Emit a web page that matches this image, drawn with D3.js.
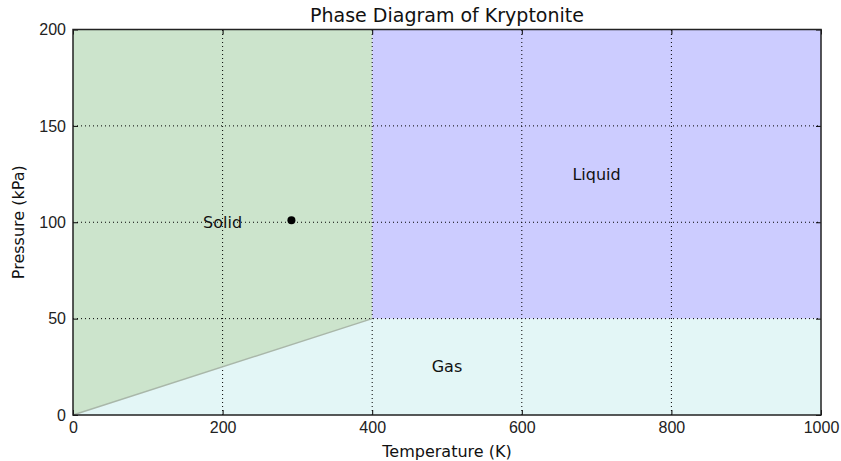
<!DOCTYPE html>
<html>
<head>
<meta charset="utf-8">
<script src="https://cdn.jsdelivr.net/npm/d3@7"></script>
<style>
  body { margin: 0; background: #fff; }
  svg { font-family: "DejaVu Sans", sans-serif; }
  .tick text { font-size: 16px; fill: #222; }
</style>
</head>
<body>
<svg id="chart" width="841" height="461"></svg>
<script>
// data
const xTicks = [0, 200, 400, 600, 800, 1000];
const yTicks = [0, 50, 100, 150, 200];
const solidRegion = [[0, 0], [400, 50], [400, 200], [0, 200]];
const liquidRegion = [[400, 50], [1000, 50], [1000, 200], [400, 200]];
const gasRegion = [[0, 0], [1000, 0], [1000, 50], [400, 50]];
const boundary = [[0, 0], [400, 50]];
const point = [292, 101];
const labels = [
  {text: "Solid", t: 200, p: 100},
  {text: "Liquid", t: 700, p: 125},
  {text: "Gas", t: 500, p: 25}
];

var svg = d3.select("#chart"),
    margin = {top: 29.5, right: 20, bottom: 46, left: 73},
    width = +svg.attr("width"),
    height = +svg.attr("height");

var x = d3.scaleLinear().domain([0, 1000]).range([margin.left, width - margin.right]);
var y = d3.scaleLinear().domain([0, 200]).range([height - margin.bottom, margin.top]);

var line = d3.line().x(function(d) { return x(d[0]); }).y(function(d) { return y(d[1]); });

// regions
svg.append("path").attr("d", line(solidRegion) + "Z").attr("fill", "#cce4cc");
svg.append("path").attr("d", line(liquidRegion) + "Z").attr("fill", "#ccccff");
svg.append("path").attr("d", line(gasRegion) + "Z").attr("fill", "#e3f6f6");

// grid
var grid = svg.append("g").attr("stroke", "#000").attr("stroke-dasharray", "1,3").attr("stroke-width", 1);
xTicks.slice(1, -1).forEach(function(t) {
  grid.append("line").attr("x1", x(t)).attr("x2", x(t)).attr("y1", y(0)).attr("y2", y(200));
});
yTicks.slice(1, -1).forEach(function(t) {
  grid.append("line").attr("y1", y(t)).attr("y2", y(t)).attr("x1", x(0)).attr("x2", x(1000));
});

// boundary line
svg.append("path").attr("d", line(boundary)).attr("stroke", "#a9b7a9").attr("stroke-width", 1.5).attr("fill", "none");

// point
svg.append("circle").attr("cx", x(point[0])).attr("cy", y(point[1])).attr("r", 4).attr("fill", "#000");

// region labels
svg.selectAll(".lbl").data(labels).enter().append("text")
  .attr("class", "lbl")
  .attr("x", function(d) { return x(d.t); })
  .attr("y", function(d) { return y(d.p); })
  .attr("dy", "0.35em")
  .attr("text-anchor", "middle")
  .style("font-size", "16px")
  .attr("fill", "#111")
  .text(function(d) { return d.text; });

// axes (ticks inward on all sides)
function styleAxis(g) {
  g.select(".domain").remove();
  g.selectAll(".tick line").attr("stroke", "#000");
}
svg.append("g").attr("transform", "translate(0," + y(0) + ")")
  .call(d3.axisBottom(x).tickValues(xTicks).tickFormat(d3.format("d")).tickSizeInner(-5).tickPadding(7).tickSizeOuter(0))
  .call(styleAxis);
svg.append("g").attr("transform", "translate(0," + y(200) + ")")
  .call(d3.axisTop(x).tickValues(xTicks).tickSizeInner(-5).tickFormat("").tickSizeOuter(0))
  .call(styleAxis);
svg.append("g").attr("transform", "translate(" + x(0) + ",0)")
  .call(d3.axisLeft(y).tickValues(yTicks).tickSizeInner(-5).tickPadding(7).tickSizeOuter(0))
  .call(styleAxis);
svg.append("g").attr("transform", "translate(" + x(1000) + ",0)")
  .call(d3.axisRight(y).tickValues(yTicks).tickSizeInner(-5).tickFormat("").tickSizeOuter(0))
  .call(styleAxis);

// frame
svg.append("rect")
  .attr("x", x(0)).attr("y", y(200))
  .attr("width", x(1000) - x(0)).attr("height", y(0) - y(200))
  .attr("fill", "none").attr("stroke", "#222").attr("stroke-width", 1.5);

// titles
svg.append("text").attr("x", (x(0) + x(1000)) / 2).attr("y", 22)
  .attr("text-anchor", "middle").style("font-size", "19px").attr("fill", "#111")
  .text("Phase Diagram of Kryptonite");
svg.append("text").attr("x", (x(0) + x(1000)) / 2).attr("y", 457)
  .attr("text-anchor", "middle").style("font-size", "16px").attr("fill", "#111")
  .text("Temperature (K)");
svg.append("text").attr("transform", "translate(24," + (y(100)) + ") rotate(-90)")
  .attr("text-anchor", "middle").style("font-size", "16px").attr("fill", "#111")
  .text("Pressure (kPa)");
</script>
</body>
</html>
